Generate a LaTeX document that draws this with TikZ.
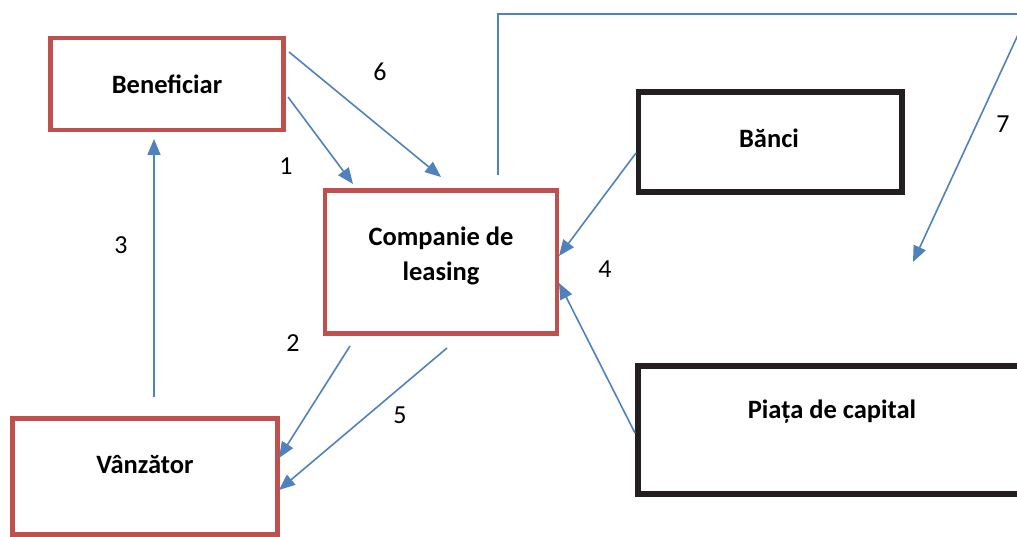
\documentclass[tikz,border=0pt]{standalone}
\usepackage{fontspec}
\setmainfont{Carlito}
\usetikzlibrary{arrows.meta,calc}
\definecolor{boxred}{HTML}{C0504D}
\definecolor{arrblue}{HTML}{4F81BD}
\definecolor{boxblack}{HTML}{231F20}
\begin{document}
\begin{tikzpicture}[x=1pt,y=-1pt,
  redbox/.style={draw=boxred,line width=4.5pt,inner sep=0pt},
  blackbox/.style={draw=boxblack,line width=5.5pt,inner sep=0pt},
  boxtext/.style={font=\fontsize{26.5}{35}\selectfont\bfseries,align=center,inner sep=0pt},
  numtext/.style={font=\fontsize{26}{30}\selectfont,inner sep=0pt},
  flow/.style={draw=arrblue,line width=1.6pt,-{Triangle[length=16pt,width=13pt]}},
  flowline/.style={draw=arrblue,line width=1.6pt}]
\useasboundingbox (0,0) rectangle (1017,537);
\clip (0,0) rectangle (1017,537);
% boxes
\node[redbox,minimum width=233pt,minimum height=92pt] (benef) at (167,84) {};
\node[boxtext] (benefT) at (167,84) {Beneficiar};
\node[redbox,minimum width=232pt,minimum height=143pt] (comp) at (441,262) {};
\node[boxtext] (compT) at (441,256) {Companie de\\leasing};
\node[redbox,minimum width=265pt,minimum height=116pt] (vanz) at (145,476.5) {};
\node[boxtext] (vanzT) at (145,465) {Vânzător};
\node[blackbox,minimum width=263.5pt,minimum height=100pt] (banci) at (770,142) {};
\node[boxtext] (banciT) at (769,138) {Bănci};
\node[blackbox,minimum width=390pt,minimum height=128pt] (piata) at (833,430) {};
\node[boxtext] (piataT) at (832,412) {Piața de capital};
% connector endpoints
\coordinate (s1) at (288,97);   \coordinate (e1) at (353,184);
\coordinate (s6) at (289,52);   \coordinate (e6) at (441,177);
\coordinate (s3) at (154,397);  \coordinate (e3) at (154,139);
\coordinate (s2) at (350,346);  \coordinate (e2) at (279,458);
\coordinate (s5) at (447,348);  \coordinate (e5) at (279,490);
\coordinate (s4a) at (636,153); \coordinate (e4a) at (559,256);
\coordinate (s4b) at (635,433); \coordinate (e4b) at (559,283);
\coordinate (s7) at (498,175);  \coordinate (c7a) at (498,14);
\coordinate (c7b) at (1027.6,14); \coordinate (e7) at (913,262);
% connectors
\draw[flow] (s1) -- (e1);
\draw[flow] (s6) -- (e6);
\draw[flow] (s3) -- (e3);
\draw[flow] (s2) -- (e2);
\draw[flow] (s5) -- (e5);
\draw[flow] (s4a) -- (e4a);
\draw[flow] (s4b) -- (e4b);
\draw[flowline] (s7) -- (c7a) -- (c7b);
\draw[flow] (c7b) -- (e7);
% numbers
\node[numtext] (n6) at (380,72) {6};
\node[numtext] (n1) at (286,166) {1};
\node[numtext] (n3) at (121,245) {3};
\node[numtext] (n2) at (293,343) {2};
\node[numtext] (n5) at (400,415) {5};
\node[numtext] (n4) at (605,269) {4};
\node[numtext] (n7) at (1003,124) {7};
\end{tikzpicture}
\end{document}
